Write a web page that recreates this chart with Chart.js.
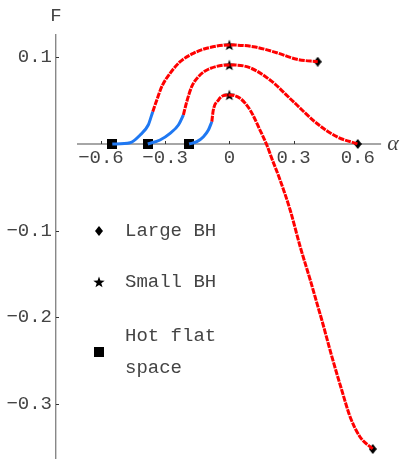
<!DOCTYPE html>
<html>
<head>
<meta charset="utf-8">
<script src="https://cdn.jsdelivr.net/npm/chart.js@4.4.0/dist/chart.umd.min.js"></script>
<style>
  html, body { margin: 0; padding: 0; background: #fff; }
  #c { display: block; }
</style>
</head>
<body>
<canvas id="c" width="404" height="459"></canvas>
<script>
// curves: [alpha, F]
const blue1 = [[-0.547, 0], [-0.464, 0.0015], [-0.417, 0.0104], [-0.379, 0.0219], [-0.358, 0.0373]];
const red1 = [[-0.358, 0.0373], [-0.339, 0.0507], [-0.316, 0.0661], [-0.277, 0.0815], [-0.230, 0.0949],
  [-0.168, 0.1046], [-0.106, 0.1104], [0, 0.1142], [0.112, 0.1122], [0.221, 0.1053], [0.315, 0.0977], [0.413, 0.0949]];

const blue2 = [[-0.381, 0], [-0.324, 0.0046], [-0.277, 0.0123], [-0.238, 0.0219], [-0.215, 0.0334]];
const red2 = [[-0.215, 0.0334], [-0.199, 0.0488], [-0.176, 0.0661], [-0.145, 0.0776], [-0.098, 0.0862],
  [0, 0.0911], [0.081, 0.0892], [0.190, 0.0738], [0.299, 0.0488], [0.408, 0.0239], [0.502, 0.0084], [0.600, 0]];

const blue3 = [[-0.188, 0], [-0.152, 0.0027], [-0.121, 0.0084], [-0.098, 0.0161], [-0.082, 0.0257]];
const red3 = [[-0.082, 0.0257], [-0.075, 0.0392], [-0.051, 0.0507], [-0.028, 0.0557], [0, 0.0565],
  [0.050, 0.0527], [0.097, 0.0392], [0.143, 0.0161], [0.175, -0.0012], [0.198, -0.0165], [0.237, -0.0415],
  [0.284, -0.0761], [0.331, -0.1185], [0.378, -0.1569], [0.416, -0.1895], [0.432, -0.2030], [0.479, -0.2453],
  [0.525, -0.2837], [0.564, -0.3145], [0.610, -0.3376], [0.670, -0.3518]];

const xTicks = [-0.6, -0.3, 0, 0.3, 0.6];
const yTicks = [-0.3, -0.2, -0.1, 0.1];
const legendLabels = [['Large BH'], ['Small BH'], ['Hot flat', 'space']];

const blues = [blue1, blue2, blue3];
const reds = [red1, red2, red3];
const squares = blues.map(c => c[0]);
const stars = reds.map(c => c.find(p => p[0] === 0));
const diamonds = reds.map(c => c[c.length - 1]);

const TXT = '#444';
const MONO = '"Liberation Mono", "DejaVu Sans Mono", monospace';

function marker(kind) {
  const cv = document.createElement('canvas');
  const g = cv.getContext('2d');
  g.fillStyle = '#000';
  if (kind === 'square') {
    cv.width = 10; cv.height = 10;
    g.fillRect(0, 0, 10, 10);
  } else if (kind === 'diamond') {
    cv.width = 8; cv.height = 10;
    g.beginPath();
    g.moveTo(4, 0); g.lineTo(8, 5); g.lineTo(4, 10); g.lineTo(0, 5);
    g.closePath(); g.fill();
  } else {
    cv.width = 12; cv.height = 12;
    g.beginPath();
    for (let i = 0; i < 10; i++) {
      const r = i % 2 ? 2.4 : 6;
      const a = -Math.PI / 2 + i * Math.PI / 5;
      g.lineTo(6 + r * Math.cos(a), 6.5 + r * Math.sin(a));
    }
    g.closePath(); g.fill();
  }
  return cv;
}
const mSquare = marker('square'), mStar = marker('star'), mDiamond = marker('diamond');

const toXY = c => c.map(p => ({ x: p[0], y: p[1] }));
const datasets = [];
blues.forEach(c => datasets.push({
  data: toXY(c), showLine: true, borderColor: '#1f78f2', borderWidth: 3,
  pointRadius: 0, cubicInterpolationMode: 'monotone', clip: false
}));
reds.forEach(c => datasets.push({
  data: toXY(c), showLine: true, borderColor: '#ff0000', borderWidth: 3,
  borderDash: [6, 1], pointRadius: 0, cubicInterpolationMode: 'monotone', clip: false
}));
[[squares, mSquare], [stars, mStar], [diamonds, mDiamond]].forEach(([pts, img]) => datasets.push({
  data: toXY(pts), showLine: false, pointStyle: img, pointRadius: 6, clip: false
}));

const decor = {
  id: 'decor',
  beforeDatasetsDraw(chart) {
    const { ctx, scales: { x, y } } = chart;
    const y0 = y.getPixelForValue(0);
    ctx.save();
    ctx.strokeStyle = '#888';
    ctx.lineWidth = 1.4;
    ctx.beginPath();
    ctx.moveTo(x.getPixelForValue(-0.712), y0);
    ctx.lineTo(x.getPixelForValue(0.709), y0);
    ctx.stroke();
    ctx.strokeStyle = '#333';
    ctx.lineWidth = 1;
    xTicks.forEach(v => {
      const px = Math.round(x.getPixelForValue(v)) + 0.5;
      ctx.beginPath(); ctx.moveTo(px, y0); ctx.lineTo(px, y0 - 3); ctx.stroke();
    });
    yTicks.forEach(v => {
      const py = Math.round(y.getPixelForValue(v)) + 0.5;
      ctx.beginPath(); ctx.moveTo(x.left, py); ctx.lineTo(x.left + 3, py); ctx.stroke();
    });
    ctx.fillStyle = TXT;
    ctx.textAlign = 'center';
    ctx.textBaseline = 'middle';
    ctx.font = '19px ' + MONO;
    ctx.fillText('F', x.left, 16);
    ctx.font = 'italic 22px "Liberation Serif", serif';
    ctx.fillText('α', 393, y0);
    ctx.restore();
  },
  afterDatasetsDraw(chart) {
    const { ctx } = chart;
    const icons = [mDiamond, mStar, mSquare];
    const rows = [231, 282, 352];
    ctx.save();
    ctx.fillStyle = TXT;
    ctx.font = '19px ' + MONO;
    ctx.textAlign = 'left';
    ctx.textBaseline = 'middle';
    legendLabels.forEach((lines, i) => {
      const img = icons[i];
      ctx.drawImage(img, 99 - img.width / 2, rows[i] - img.height / 2);
      const top = rows[i] - (lines.length - 1) * 16;
      lines.forEach((t, j) => ctx.fillText(t, 125, top + j * 32));
    });
    ctx.restore();
  }
};

const fmt = v => (v === 0 ? '0' : v.toFixed(1).replace('-', '\u2212'));

new Chart(document.getElementById('c'), {
  type: 'scatter',
  data: { datasets },
  options: {
    responsive: false,
    animation: false,
    layout: { autoPadding: false, padding: { top: 35, right: 0, bottom: 0, left: 0 } },
    plugins: { legend: { display: false }, tooltip: { enabled: false } },
    scales: {
      x: {
        type: 'linear', min: -0.81, max: 0.816,
        position: { y: 0 },
        afterBuildTicks: s => { s.ticks = xTicks.map(v => ({ value: v })); },
        afterFit: s => { s.height = 0; s.paddingLeft = 0; s.paddingRight = 0; s.paddingTop = 0; s.paddingBottom = 0; },
        grid: { display: false, drawTicks: false },
        border: { display: false },
        ticks: { autoSkip: false, maxRotation: 0, padding: 3, color: TXT,
          font: { family: MONO, size: 19 }, callback: v => fmt(v) }
      },
      y: {
        type: 'linear', min: -0.3633, max: 0.1257,
        position: 'left',
        afterFit: s => { s.width = 56; s.paddingTop = 0; s.paddingBottom = 0; },
        afterBuildTicks: s => { s.ticks = yTicks.map(v => ({ value: v })); },
        grid: { display: false, drawTicks: false },
        border: { display: true, color: '#888', width: 1.4 },
        ticks: { autoSkip: false, padding: 4, color: TXT,
          font: { family: MONO, size: 19 }, callback: v => fmt(v) }
      }
    }
  },
  plugins: [decor]
});
</script>
</body>
</html>
